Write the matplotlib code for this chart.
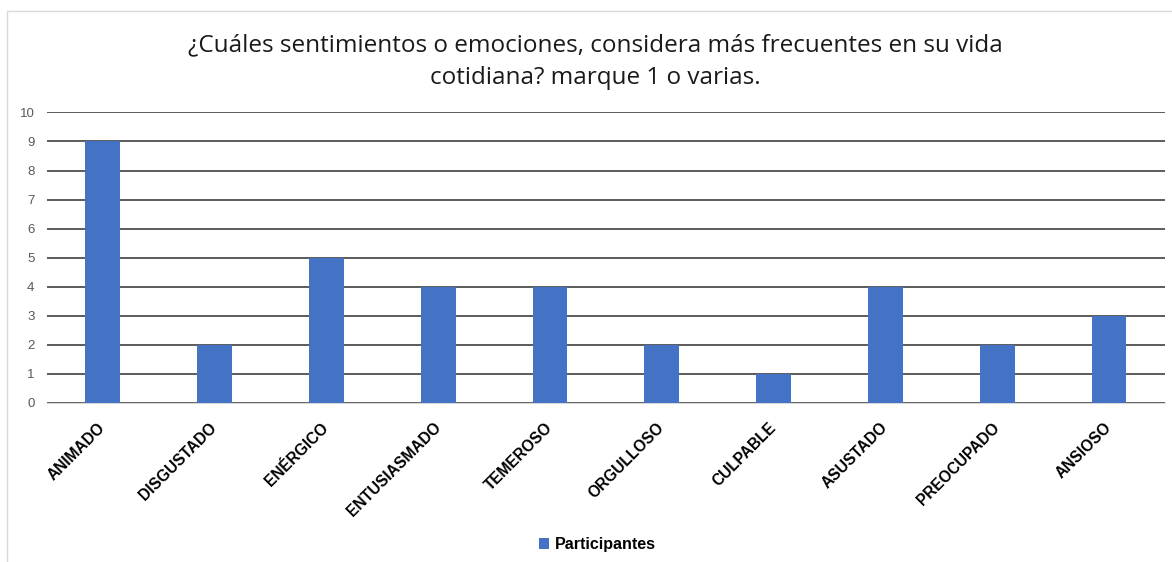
import matplotlib.pyplot as plt
from matplotlib.patches import Rectangle

categorias = ['ANIMADO', 'DISGUSTADO', 'ENÉRGICO', 'ENTUSIASMADO', 'TEMEROSO',
              'ORGULLOSO', 'CULPABLE', 'ASUSTADO', 'PREOCUPADO', 'ANSIOSO']
participantes = [9, 2, 5, 4, 4, 2, 1, 4, 2, 3]
yticks = list(range(0, 11))

fig = plt.figure(figsize=(11.72, 5.62), dpi=100)
ax = fig.add_axes([0.040, 0.283, 0.954, 0.518])

# chart border (light grey)
fig.patches.append(Rectangle((7 / 1172, -0.05), 1.2, 1 - 11 / 562 + 0.05,
                             transform=fig.transFigure, fill=False,
                             edgecolor='#d9d9d9', linewidth=1))

x = range(len(categorias))
ax.bar(x, participantes, width=0.31, color='#4472c4', label='Participantes', zorder=3)

ax.set_xlim(-0.5, len(categorias) - 0.5)
ax.set_ylim(0, 10.02)
ax.set_yticks(yticks)
ax.set_yticklabels([str(t) for t in yticks], fontsize=9.5, color='#595959',
                   fontfamily='Liberation Sans')
ax.grid(axis='y', color='#404040', linewidth=1.2, zorder=0)
ax.set_xticks(list(x))
ax.set_xticklabels(categorias, rotation=45, ha='right', va='center',
                   rotation_mode='anchor',
                   fontsize=11.2, fontweight='bold', fontfamily='Liberation Sans')
ax.tick_params(axis='both', length=0)
ax.tick_params(axis='x', pad=16)
ax.tick_params(axis='y', pad=9)
for s in ['top', 'right', 'left']:
    ax.spines[s].set_visible(False)
ax.spines['bottom'].set_color('#d9d9d9')

fig.text(0.508, 0.89, '¿Cuáles sentimientos o emociones, considera más frecuentes en su vida\ncotidiana? marque 1 o varias.',
         ha='center', va='center', fontsize=17.5, fontfamily='Open Sans',
         color='#1a1a1a', linespacing=1.5)

fig.legend(loc='center', bbox_to_anchor=(0.51, 0.031), frameon=False,
           prop={'family': 'Liberation Sans', 'weight': 'bold', 'size': 11.5},
           handlelength=0.6, handleheight=0.6, handletextpad=0.4)

fig.savefig('out.png', dpi=100)
